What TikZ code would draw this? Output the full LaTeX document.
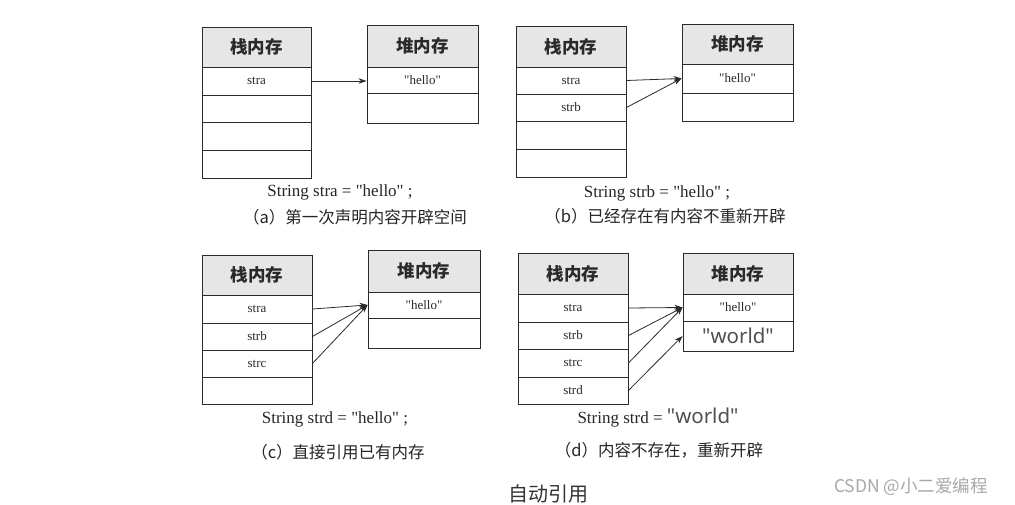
\documentclass[tikz,border=0pt]{standalone}
\usepackage{fontspec}
\setmainfont{Liberation Serif}[Ligatures=TeXOff]
\newfontfamily\cjk{Noto Sans CJK SC}
\newfontfamily\sans{Noto Sans}
\usetikzlibrary{arrows.meta}
\definecolor{linec}{HTML}{2A2A2A}
\definecolor{hdr}{HTML}{E6E6E6}
\definecolor{worldc}{HTML}{505050}
\definecolor{wm}{HTML}{A8A8A8}
\tikzset{
  cell/.style={draw=linec, line width=0.9pt, inner sep=0pt, font=\fontsize{13}{15}\selectfont, text=linec},
  hcell/.style={cell, fill=hdr, font=\cjk\bfseries\fontsize{17.5}{20}\selectfont},
  ptr/.style={draw=linec, line width=0.8pt, -{Stealth[length=8pt,width=5.5pt]}},
  code/.style={font=\fontsize{17}{19}\selectfont, text=black!85, inner sep=0pt},
  capt/.style={font=\cjk\fontsize{16.5}{19}\selectfont, text=black!85, inner sep=0pt},
}
\newcommand\mycell[7]{\node[#7,minimum width={(#4-#2)*1pt},minimum height={(#5-#3)*1pt}] (#1) at ({(#2+#4)/2},{(#3+#5)/2}) {#6};}
\newcommand\worldtxt{{\sans\fontsize{20.5}{22}\selectfont\color{worldc}"world"}}
\begin{document}
\begin{tikzpicture}[x=1pt,y=-1pt]
\useasboundingbox[fill=white] (0,0) rectangle (1015,505);
% ---------- (a)
\mycell{sa0}{202}{27}{311}{67}{栈内存}{hcell}
\mycell{sa1}{202}{67}{311}{95}{stra}{cell}
\mycell{sa2}{202}{95}{311}{122}{}{cell}
\mycell{sa3}{202}{122}{311}{150}{}{cell}
\mycell{sa4}{202}{150}{311}{178}{}{cell}
\mycell{ha0}{367}{25}{478}{67}{堆内存}{hcell}
\mycell{ha1}{367}{67}{478}{93}{"hello"}{cell}
\mycell{ha2}{367}{93}{478}{123}{}{cell}
\draw[ptr] (sa1.east) -- (sa1.east -| ha1.west);
\node[code] (ca) at (340,192) {String stra = "hello" ;};
\node[capt] (ta) at (355,217) {（a）第一次声明内容开辟空间};
% ---------- (b)
\mycell{sb0}{516}{26}{626}{67}{栈内存}{hcell}
\mycell{sb1}{516}{67}{626}{94}{stra}{cell}
\mycell{sb2}{516}{94}{626}{121}{strb}{cell}
\mycell{sb3}{516}{121}{626}{149}{}{cell}
\mycell{sb4}{516}{149}{626}{177}{}{cell}
\mycell{hb0}{682}{24}{793}{64}{堆内存}{hcell}
\mycell{hb1}{682}{64}{793}{93}{"hello"}{cell}
\mycell{hb2}{682}{93}{793}{121}{}{cell}
\draw[ptr] (sb1.east) -- (hb1.west);
\draw[ptr] (sb2.east) -- (hb1.west);
\node[code] (cb) at (657,193) {String strb = "hello" ;};
\node[capt] (tb) at (665,216) {（b）已经存在有内容不重新开辟};
% ---------- (c)
\mycell{sc0}{202}{255}{312}{295}{栈内存}{hcell}
\mycell{sc1}{202}{295}{312}{323}{stra}{cell}
\mycell{sc2}{202}{323}{312}{350}{strb}{cell}
\mycell{sc3}{202}{350}{312}{377}{strc}{cell}
\mycell{sc4}{202}{377}{312}{404}{}{cell}
\mycell{hc0}{368}{250}{480}{292}{堆内存}{hcell}
\mycell{hc1}{368}{292}{480}{318}{"hello"}{cell}
\mycell{hc2}{368}{318}{480}{348}{}{cell}
\draw[ptr] (sc1.east) -- (hc1.west);
\draw[ptr] (sc2.east) -- (hc1.west);
\draw[ptr] (sc3.east) -- (hc1.west);
\node[code] (cc) at (335,419) {String strd = "hello" ;};
\node[capt] (tc) at (338,452) {（c）直接引用已有内存};
% ---------- (d)
\mycell{sd0}{518}{253}{628}{294}{栈内存}{hcell}
\mycell{sd1}{518}{294}{628}{322}{stra}{cell}
\mycell{sd2}{518}{322}{628}{349}{strb}{cell}
\mycell{sd3}{518}{349}{628}{377}{strc}{cell}
\mycell{sd4}{518}{377}{628}{404}{strd}{cell}
\mycell{hd0}{683}{253}{793}{294}{堆内存}{hcell}
\mycell{hd1}{683}{294}{793}{321}{"hello"}{cell}
\mycell{hd2}{683}{321}{793}{351}{\worldtxt}{cell}
\draw[ptr] (sd1.east) -- (hd1.west);
\draw[ptr] (sd2.east) -- (hd1.west);
\draw[ptr] (sd3.east) -- (hd1.west);
\draw[ptr] (sd4.east) -- (hd2.west);
\node[code] (cd) at (658,418) {String strd = \worldtxt};
\node[capt] (td) at (659,450) {（d）内容不存在，重新开辟};
% ---------- bottom
\node[font=\cjk\fontsize{20}{22}\selectfont, text=black!80, inner sep=0pt] (title) at (548,494) {自动引用};
\node[font=\cjk\fontsize{17.5}{20}\selectfont, text=wm, inner sep=0pt, anchor=west] (mark) at (834,487) {CSDN @小二爱编程};
\end{tikzpicture}
\end{document}
